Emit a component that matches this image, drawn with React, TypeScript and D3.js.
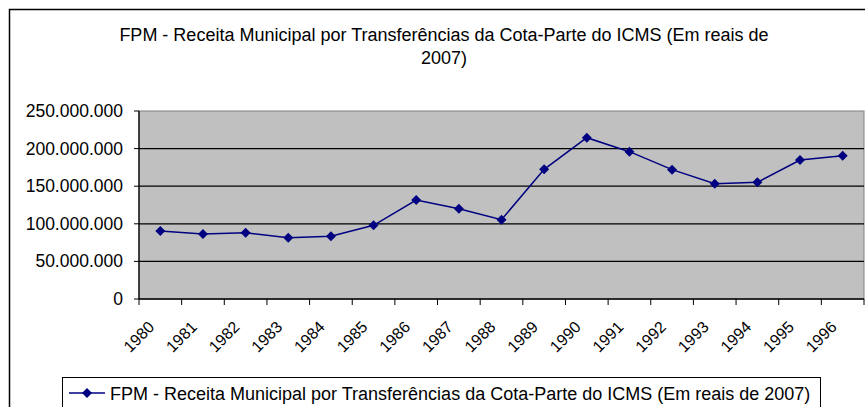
import * as d3 from "d3";
import React from "react";

// dados do gráfico
const anos = ["1980", "1981", "1982", "1983", "1984", "1985", "1986", "1987", "1988", "1989", "1990", "1991", "1992", "1993", "1994", "1995", "1996"];
const receita = [90400000, 86400000, 88200000, 81300000, 83400000, 98000000, 131600000, 120000000, 105500000, 172500000, 214500000, 195900000, 172000000, 153300000, 155200000, 184800000, 190500000];
const yTicks = [0, 50000000, 100000000, 150000000, 200000000, 250000000];
const titulo1 = "FPM - Receita Municipal por Transferências da Cota-Parte do ICMS (Em reais de";
const titulo2 = "2007)";
const legenda = "FPM - Receita Municipal por Transferências da Cota-Parte do ICMS (Em reais de 2007)";

const W = 865;
const H = 407;
const plot = { left: 139, top: 111, right: 864, bottom: 299 };
const font = "'Liberation Sans', Arial, sans-serif";
const fmt = (v: number) => (v === 0 ? "0" : d3.format(",")(v).replace(/,/g, "."));

export default function App() {
  const x = d3.scaleBand().domain(anos).range([plot.left, plot.right]);
  const y = d3.scaleLinear().domain([0, 250000000]).range([plot.bottom, plot.top]);
  const line = d3
    .line<number>()
    .x((_, i) => x(anos[i])! + x.bandwidth() / 2)
    .y((d) => y(d));
  // losango: quadrado girado 45 graus
  const diamond = d3.symbol(d3.symbolSquare, 50)();
  const bounds = anos.map((a) => x(a)!).concat([plot.right]);

  return (
    <svg width={W} height={H} style={{ position: "absolute", left: 0, top: 0 }} fontFamily={font}>
      <rect x={0} y={0} width={W} height={H} fill="white" />
      <rect x={9.5} y={9.5} width={W + 10} height={H + 10} fill="none" stroke="black" strokeWidth={1.5} />

      {/* título */}
      <text x={444} y={41} textAnchor="middle" fontSize={18} fill="#000">{titulo1}</text>
      <text x={444} y={64} textAnchor="middle" fontSize={18} fill="#000">{titulo2}</text>

      {/* área do gráfico */}
      <rect x={plot.left} y={plot.top} width={plot.right - plot.left} height={plot.bottom - plot.top} fill="#C0C0C0" stroke="#808080" strokeWidth={1} />
      {yTicks.map((t) => (
        <g key={t}>
          {t > 0 && t < 250000000 && (
            <line x1={plot.left} x2={plot.right} y1={y(t)} y2={y(t)} stroke="#000" strokeWidth={1.3} />
          )}
          <line x1={plot.left - 5} x2={plot.left} y1={y(t)} y2={y(t)} stroke="#000" />
          <text x={plot.left - 16} y={y(t) + 6} textAnchor="end" fontSize={17.5} fill="#000">{fmt(t)}</text>
        </g>
      ))}
      <line x1={plot.left} x2={plot.left} y1={plot.top} y2={plot.bottom} stroke="#000" strokeWidth={1.3} />
      <line x1={plot.left} x2={plot.right} y1={plot.bottom} y2={plot.bottom} stroke="#000" strokeWidth={1.3} />
      {bounds.map((b, i) => (
        <line key={i} x1={b} x2={b} y1={plot.bottom} y2={plot.bottom + 6} stroke="#000" />
      ))}
      {anos.map((a) => {
        const cx = x(a)! + x.bandwidth() / 2 - 5;
        return (
          <text key={a} x={cx} y={328} textAnchor="end" fontSize={16} fill="#000" transform={`rotate(-45 ${cx} 328)`}>{a}</text>
        );
      })}

      {/* série */}
      <path d={line(receita)!} fill="none" stroke="#000080" strokeWidth={1.5} />
      {receita.map((v, i) => (
        <path key={i} d={diamond!} fill="#000080" transform={`translate(${x(anos[i])! + x.bandwidth() / 2},${y(v)}) rotate(45)`} />
      ))}

      {/* legenda */}
      <rect x={62.5} y={377.5} width={758} height={40} fill="white" stroke="#000" strokeWidth={1} />
      <line x1={69} x2={105} y1={393} y2={393} stroke="#000080" strokeWidth={1.5} />
      <path d={diamond!} fill="#000080" transform="translate(87,393) rotate(45)" />
      <text x={110} y={400} fontSize={18} fill="#000">{legenda}</text>
    </svg>
  );
}
